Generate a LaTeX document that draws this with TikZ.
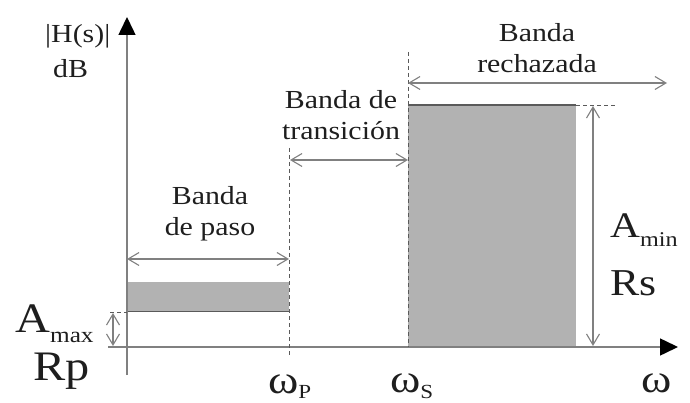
\documentclass[tikz,border=0pt]{standalone}
\usepackage{fontspec}
\setmainfont[FakeStretch=1.15]{Liberation Serif}
\usetikzlibrary{arrows.meta}
\definecolor{linegray}{RGB}{128,128,128}
\definecolor{bandgray}{RGB}{178,178,178}
\definecolor{inkgray}{RGB}{30,30,30}

\begin{document}
\begin{tikzpicture}[x=1pt,y=-1pt,
	axis/.style={linegray,line width=1.5pt,-{Triangle[length=18pt,width=17pt,color=black]}},
	guide/.style={linegray!70!black,line width=0.9pt,dash pattern=on 4pt off 3pt},
	span/.style={linegray,line width=1.1pt,{Straight Barb[length=11pt,width=13pt]}-{Straight Barb[length=11pt,width=13pt]}},
	lbl/.style={inkgray,font=\fontsize{26}{31}\selectfont,align=center,inner sep=0pt},
	big/.style={inkgray,font=\fontsize{40}{40}\selectfont,inner sep=0pt,anchor=base west}]
	\useasboundingbox (0,0) rectangle (690,403);

	% points of the axes and the bands
	\coordinate (ytop) at (127,17);
	\coordinate (ybot) at (127,375);
	\coordinate (xleft) at (108,347);
	\coordinate (xright) at (678,347);
	\coordinate (wpTop) at (289,148);
	\coordinate (wpBot) at (289,356);
	\coordinate (wsTop) at (408,52);
	\coordinate (wsBot) at (408,347);

	% shaded bands
	\fill[bandgray] (127,282) rectangle (289,311);
	\fill[bandgray] (408,105) rectangle (576,347);
	\draw[linegray!70!black,line width=1pt] (127,311) -- (289,311);
	\draw[linegray!70!black,line width=1.2pt] (408,105) -- (576,105);
	\draw[guide] (576,105) -- (615,105);

	% axes
	\draw[axis] (ybot) -- (ytop);
	\draw[axis] (xleft) -- (xright);

	% edges
	\draw[guide] (wpTop) -- (wpBot);
	\draw[guide] (wsTop) -- (wsBot);
	\draw[guide] (110,312) -- (127,312);

	% bands widths
	\draw[span] (127,259) -- (289,259);
	\draw[span] (290,160) -- (408,160);
	\draw[span] (408,83) -- (667,83);
	\draw[span] (593,106) -- (593,346);
	\draw[span] (113,313) -- (113,346);

	\node[lbl] (stoplbl) at (537,48) {Banda\\rechazada};
	\node[lbl] (translbl) at (341,115) {Banda de\\transición};
	\node[lbl] (passlbl) at (210,214) {Banda\\de paso};
	\node[lbl,anchor=base west] (hs) at (45,43) {|H(s)|};
	\node[lbl,anchor=base west] (db) at (53,78) {dB};

	\node[big,font=\fontsize{42}{42}\selectfont] (amax) at (15,332) {A\raisebox{-10pt}{\fontsize{22}{22}\selectfont max}};
	\node[big,font=\fontsize{42}{42}\selectfont] (rp) at (33,380) {Rp};
	\node[big,font=\fontsize{36}{36}\selectfont] (amin) at (610,238) {A\raisebox{-9pt}{\fontsize{21}{21}\selectfont min}};
	\node[big,font=\fontsize{38}{38}\selectfont] (rs) at (610,295) {Rs};
	\node[big] (wp) at (268,393) {ω\raisebox{-5pt}{\fontsize{20}{20}\selectfont P}};
	\node[big] (ws) at (390,392) {ω\raisebox{-6pt}{\fontsize{20}{20}\selectfont S}};
	\node[big,anchor=base] (w) at (657,392) {ω};
\end{tikzpicture}
\end{document}
